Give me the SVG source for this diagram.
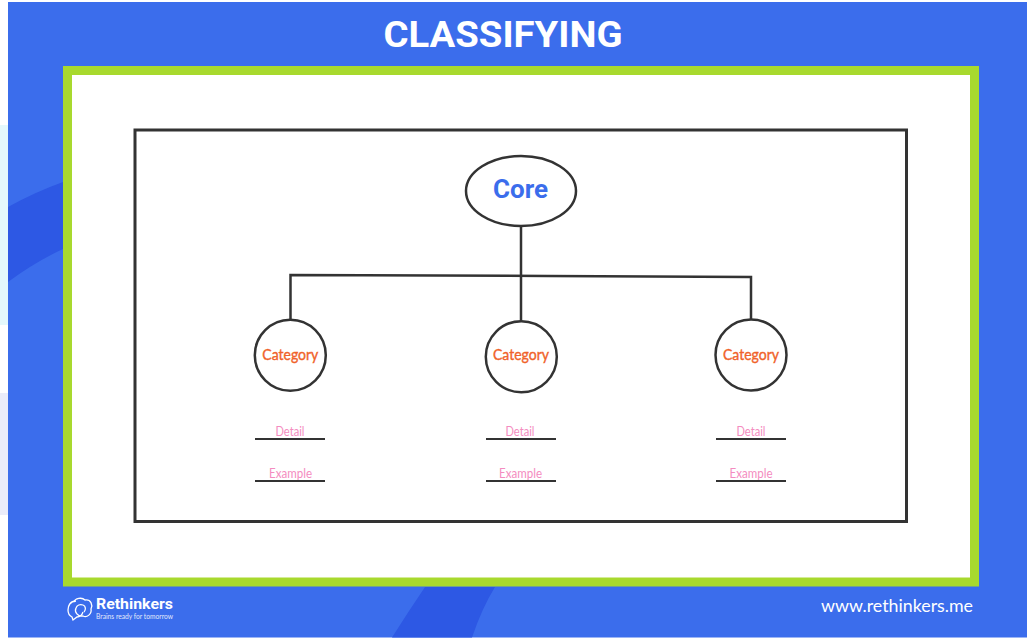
<svg xmlns="http://www.w3.org/2000/svg" width="1027" height="639" viewBox="0 0 1027 639">
<style>
.ln{fill:none;stroke:#333333;stroke-width:2.500}
.ul{fill:none;stroke:#333333;stroke-width:2}
.nd{fill:#fff;stroke:#333333;stroke-width:2.500}
.cat{font-family:"Lato","Noto Sans",sans-serif;font-size:16px;font-weight:400;fill:#f0622a;stroke:#f0622a;stroke-width:.4;text-anchor:middle}
.sub{font-family:"Lato","Noto Sans",sans-serif;font-size:13px;fill:#f48cc0;text-anchor:middle}
</style>
<rect width="1027" height="639" fill="#fff"/>
<rect x="0" y="125" width="8" height="200" fill="#e4f8fc"/>
<rect x="0" y="393" width="8" height="122" fill="#eaecfa"/>
<rect x="8" y="2" width="1019" height="635.500" fill="#3b6dec"/>
<path d="M8 207Q35 192 63 182V249Q35 262 8 282Z" fill="#2d58e4"/>
<path d="M425 587H495Q482 608 472 637.500H392Q408 612 425 587Z" fill="#2d58e4"/>
<text x="503" y="47" font-family="Roboto,sans-serif" font-size="37" font-weight="700" fill="#fff" text-anchor="middle" textLength="239" lengthAdjust="spacingAndGlyphs">CLASSIFYING</text>
<rect x="67.500" y="70.500" width="907" height="511.500" fill="#fff" stroke="#a8d92e" stroke-width="9"/>
<rect id="frame" x="135" y="130" width="771.500" height="391.500" fill="none" stroke="#333333" stroke-width="3"/>
<g id="connectors">
<path class="ln" d="M521 226V322"/>
<path class="ln" d="M290.500 320V275L548 276L751 277V319"/>
</g>
<g id="core"><ellipse class="nd" cx="521" cy="191" rx="55" ry="35"/>
<text x="520.500" y="198" font-family="Roboto,sans-serif" font-size="25" font-weight="700" fill="#3b6dec" text-anchor="middle" textLength="55" lengthAdjust="spacingAndGlyphs">Core</text></g>
<g id="category-1"><circle class="nd" cx="290.300" cy="355.200" r="35.500"/><text class="cat" x="290.300" y="360" textLength="56" lengthAdjust="spacingAndGlyphs">Category</text></g>
<g id="category-2"><circle class="nd" cx="521.300" cy="356.700" r="35.500"/><text class="cat" x="521" y="360" textLength="56" lengthAdjust="spacingAndGlyphs">Category</text></g>
<g id="category-3"><circle class="nd" cx="751" cy="355" r="35.500"/><text class="cat" x="751" y="360" textLength="56" lengthAdjust="spacingAndGlyphs">Category</text></g>
<g id="detail-1"><path class="ul" d="M255 439H325"/><text class="sub" x="290" y="436" textLength="29" lengthAdjust="spacingAndGlyphs">Detail</text></g>
<g id="example-1"><path class="ul" d="M255 481H325"/><text class="sub" x="290.500" y="478" textLength="43" lengthAdjust="spacingAndGlyphs">Example</text></g>
<g id="detail-2"><path class="ul" d="M486 439H556"/><text class="sub" x="520" y="436" textLength="29" lengthAdjust="spacingAndGlyphs">Detail</text></g>
<g id="example-2"><path class="ul" d="M486 481H556"/><text class="sub" x="520.500" y="478" textLength="43" lengthAdjust="spacingAndGlyphs">Example</text></g>
<g id="detail-3"><path class="ul" d="M716 439H786"/><text class="sub" x="751" y="436" textLength="29" lengthAdjust="spacingAndGlyphs">Detail</text></g>
<g id="example-3"><path class="ul" d="M716 481H786"/><text class="sub" x="751" y="478" textLength="43" lengthAdjust="spacingAndGlyphs">Example</text></g>
<g id="logo" fill="none" stroke="#fff" stroke-width="1.300">
<path d="M76 601C70 601 68 606 68 610C68 614 70 616 72 617L73 620L77 617C80 617 82 615 83 612"/>
<path d="M74 602C75 598 82 597 85 600C91 599 93 605 91 609C92 614 87 618 83 616C78 617 74 612 76 608C77 605 80 604 83 605C86 606 86 610 84 612"/>
</g>
<text x="96" y="609" font-family="Roboto,sans-serif" font-size="15" font-weight="700" fill="#fff" textLength="77" lengthAdjust="spacingAndGlyphs">Rethinkers</text>
<text x="96" y="619" font-family="Lato,sans-serif" font-size="7" fill="#fff" opacity=".85" textLength="77" lengthAdjust="spacingAndGlyphs">Brains ready for tomorrow</text>
<text x="821" y="612" font-family="Lato,sans-serif" font-size="18" fill="#fff" textLength="152" lengthAdjust="spacingAndGlyphs">www.rethinkers.me</text>
</svg>
